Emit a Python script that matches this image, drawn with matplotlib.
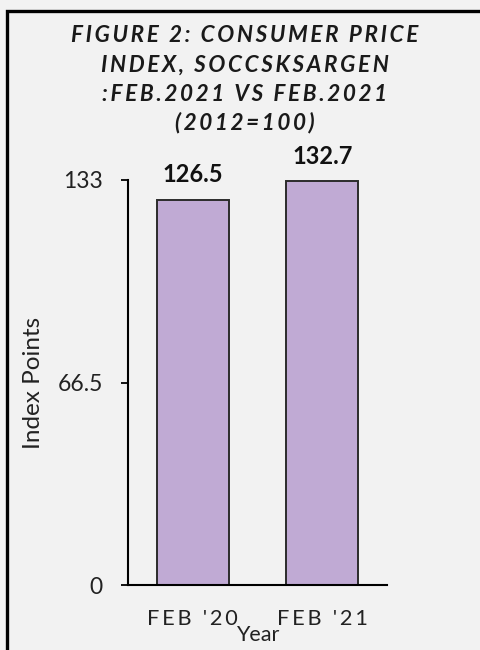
import matplotlib
matplotlib.use("Agg")
import matplotlib.pyplot as plt
from matplotlib.patches import Rectangle

# Data
categories = ["FEB '20", "FEB '21"]
values = [126.5, 132.7]
y_ticks = [0, 66.5, 133]
y_tick_labels = ["0", "66.5", "133"]
title_lines = [
    "FIGURE 2: CONSUMER PRICE",
    "INDEX, SOCCSKSARGEN",
    ":FEB.2021 VS FEB.2021",
    "(2012=100)",
]

FONT = ["Lato", "DejaVu Sans"]
BG = "#f2f2f2"
BAR = "#c0aad4"
W, H = 481, 650


def spaced(s, sep="\u2009"):
    return sep.join(s)


fig = plt.figure(figsize=(W / 100, H / 100), dpi=100, facecolor=BG)

# outer frame (open on the right and bottom)
fig.patches.append(Rectangle((6.5 / W, -0.1), 1.2, 1.1 - 11 / H,
                             transform=fig.transFigure, fill=False,
                             edgecolor="black", linewidth=2.4))

ax = fig.add_axes([128 / W, 1 - 585 / H, (387 - 128) / W, (585 - 180) / H])
ax.set_facecolor(BG)

x = list(range(len(categories)))
ax.bar(x, values, width=0.555, color=BAR, edgecolor="#2b2b2b", linewidth=1.4)

for xi, v in zip(x, values):
    ax.annotate(f"{v:.1f}", (xi, v), xytext=(0, 12.5), textcoords="offset points",
                ha="center", va="baseline", fontsize=17, fontweight="bold",
                family=FONT, color="#111111")

ax.set_xlim(-0.5, 1.5)
ax.set_ylim(0, 133)
ax.set_yticks(y_ticks)
ax.set_yticklabels(y_tick_labels, family=FONT, fontsize=16.5, color="#222222")
ax.set_xticks(x)
ax.set_xticklabels([spaced(c) for c in categories], family=FONT,
                   fontsize=15.7, color="#222222")
ax.tick_params(axis="y", length=5, width=1.3, pad=13, color="black")
ax.tick_params(axis="x", length=0, pad=17.5)

for s in ["top", "right"]:
    ax.spines[s].set_visible(False)
for s in ["left", "bottom"]:
    ax.spines[s].set_linewidth(1.5)
    ax.spines[s].set_color("black")

ax.set_ylabel("Index Points", family=FONT, fontsize=17.5, color="#222222", va="center")
ax.yaxis.set_label_coords((33.5 - 128) / (387 - 128), 0.5)
ax.set_xlabel("Year", family=FONT, fontsize=15.5, color="#222222", va="baseline")
ax.xaxis.set_label_coords(0.5, (585 - 641) / (585 - 180))

for i, line in enumerate(title_lines):
    fig.text(244.5 / W, 1 - (42 + 29.3 * i) / H, spaced(line),
             ha="center", va="baseline", family=FONT, fontsize=16.2,
             fontweight="bold", fontstyle="italic", color="#1a1a1a")

fig.savefig("out.png", dpi=100, facecolor=BG)
